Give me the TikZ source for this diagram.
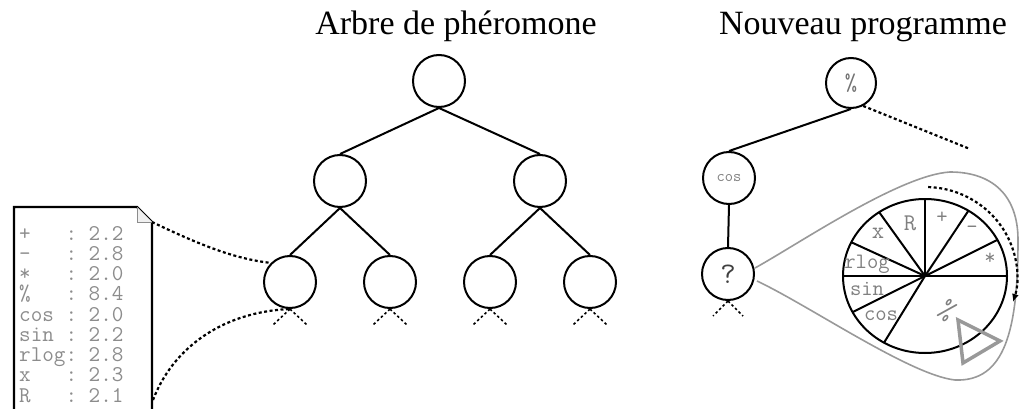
\documentclass[tikz,border=0pt]{standalone}
\usepackage{fontspec}
\setmainfont{Liberation Serif}
\usetikzlibrary{arrows.meta}
\begin{document}
\begin{tikzpicture}[x=1pt,y=-1pt,
  nd/.style={circle,draw,line width=2pt,minimum size=52pt,inner sep=0pt},
  edge/.style={line width=2pt},
  stub/.style={line width=1.6pt,dash pattern=on 2.5pt off 2.5pt},
  dline/.style={line width=2.2pt,dash pattern=on 3pt off 2.5pt},
  titletxt/.style={font=\fontsize{34}{36}\selectfont,anchor=base},
  doctxt/.style={font=\ttfamily\fontsize{22.5}{20.25}\selectfont,text=black!45,anchor=base west,inner sep=0pt,align=left},
  wtxt/.style={font=\ttfamily\fontsize{22}{22}\selectfont,text=black!50,inner sep=0pt},
  balloon/.style={draw=black!40,line width=1.6pt},
  wheelline/.style={line width=2pt}]
\useasboundingbox (0,0) rectangle (1020,409);

% titles
\node[titletxt] (t1) at (456,35) {Arbre de phéromone};
\node[titletxt] (t2) at (863,35) {Nouveau programme};

% pheromone tree
\node[nd] (r)  at (439,81) {};
\node[nd] (a)  at (340,181) {};
\node[nd] (b)  at (540,181) {};
\node[nd] (aa) at (290,282) {};
\node[nd] (ab) at (390,282) {};
\node[nd] (ba) at (490,282) {};
\node[nd] (bb) at (590,282) {};
\draw[edge] (r.south) -- (a.north);
\draw[edge] (r.south) -- (b.north);
\draw[edge] (a.south) -- (aa.north);
\draw[edge] (a.south) -- (ab.north);
\draw[edge] (b.south) -- (ba.north);
\draw[edge] (b.south) -- (bb.north);
\foreach \n in {aa,ab,ba,bb}{
  \draw[stub] (\n.south) -- ++(-17,16);
  \draw[stub] (\n.south) -- ++(17,16);
}

% document
\coordinate (dtl) at (14,207);
\coordinate (dfold) at (137,207);
\coordinate (dcorner) at (152,222);
\draw[line width=2.2pt] (14,415) -- (dtl) -- (dfold) -- (dcorner) -- (152,415);
\draw[black!45,line width=0.8pt,fill=black!6] (dfold) -- (137,222) -- (dcorner);
\node[doctxt] (doc) at (19,402) {+\ \ \ :\ 2.2\\
-\ \ \ :\ 2.8\\
*\ \ \ :\ 2.0\\
\%\ \ \ :\ 8.4\\
cos\ :\ 2.0\\
sin\ :\ 2.2\\
rlog:\ 2.8\\
x\ \ \ :\ 2.3\\
R\ \ \ :\ 2.1};
\coordinate (dbot) at (153,400);
\draw[dline] (dcorner) .. controls (200,245) and (235,259) .. (aa.135);
\draw[dline] (dbot) .. controls (172,350) and (220,312) .. (aa.south);

% new program tree
\node[nd,minimum size=50pt,font=\ttfamily\fontsize{24}{24}\selectfont,text=black!55] (p) at (851,83) {\%};
\node[nd,font=\ttfamily\fontsize{16}{16}\selectfont,text=black!50] (c) at (729,178) {cos};
\node[nd,font=\ttfamily\fontsize{30}{30}\selectfont,text=black!75] (q) at (728,274) {?};
\coordinate (pend) at (970,149);
\draw[edge] (p.south) -- (c.north);
\draw[dline] (p.-62) -- (pend);
\draw[edge] (c.south) -- (q.north);
\draw[stub] (q.south) -- ++(-15,15);
\draw[stub] (q.south) -- ++(15,15);

% balloon
\draw[balloon] (q.east) ++(0,-6) coordinate (bs)
  .. controls (800,243) and (900,175) .. (950,172)
  .. controls (992,172) and (1018,195) .. (1018,240)
  .. controls (1018,330) and (1005,382) .. (955,380)
  .. controls (910,375) and (810,306) .. (757,281);

% wheel
\coordinate (W) at (925,276);
\draw[wheelline] (W) ellipse[x radius=82,y radius=77];
\foreach \a in {0,28,58,90,124,154,180,208,240}{
  \draw[wheelline] (W) -- ++(-\a:82 and 77);
}
\node[wtxt,font=\ttfamily\fontsize{24}{24}\selectfont] (wR) at (910,223) {R};
\node[wtxt] (wplus) at (942,218) {+};
\node[wtxt] (wminus) at (972,230) {-};
\node[wtxt] (wstar) at (990,259) {*};
\node[wtxt,font=\ttfamily\fontsize{24}{24}\selectfont] (wx) at (878,233) {x};
\node[wtxt] (wrlog) at (867,264) {rlog};
\node[wtxt] (wsin) at (867,289) {sin};
\node[wtxt] (wcos) at (881,316) {cos};
\node[wtxt,font=\ttfamily\fontsize{28}{28}\selectfont,rotate=-40] (wpct) at (948,311) {\%};

% pointer triangle
\draw[draw=black!40,line width=3.5pt,line join=miter] (958,320) -- (1000,341) -- (963,363) -- cycle;

% dashed rotation arrow
\draw[dline,-{Latex[length=8pt,width=7pt]}] (W) ++(-88:92 and 89)
  arc[start angle=-88,end angle=17,x radius=92,y radius=89];
\end{tikzpicture}
\end{document}
